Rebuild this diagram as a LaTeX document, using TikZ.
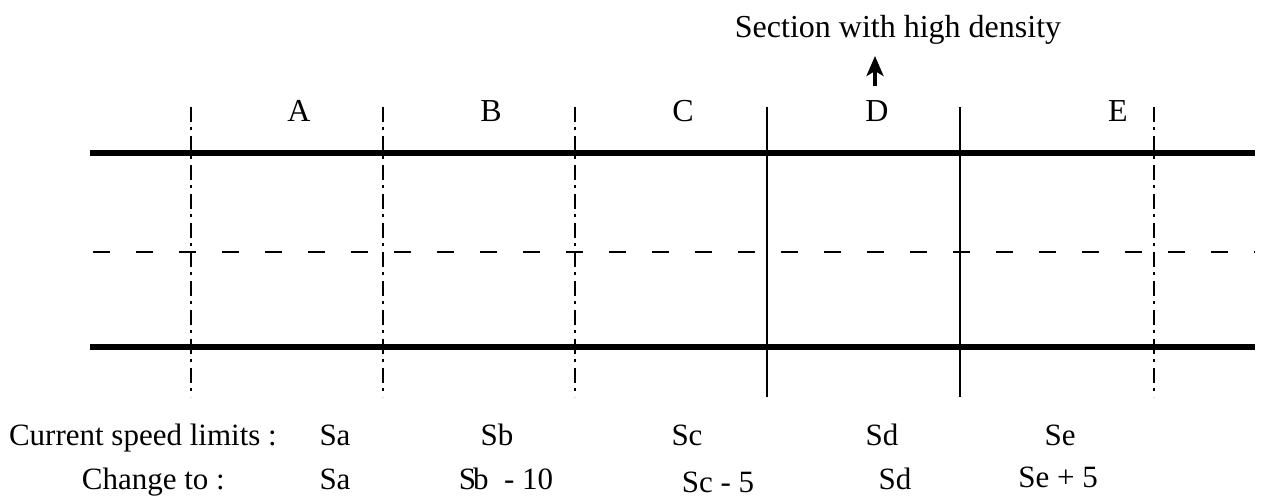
\documentclass[tikz,border=0pt]{standalone}
\usepackage{fontspec}
\setmainfont{Liberation Serif}
\usetikzlibrary{arrows.meta}
\tikzset{
  road/.style={line width=6pt},
  lane/.style={line width=2.4pt,dash pattern=on 17pt off 26pt},
  cut/.style={line width=2.2pt,dash pattern=on 15pt off 5pt on 2.5pt off 6.5pt},
  wall/.style={line width=2.2pt},
  biglabel/.style={font=\fontsize{32}{38}\selectfont,inner sep=0pt,anchor=base},
  speedlabel/.style={font=\fontsize{31}{36}\selectfont,inner sep=0pt,anchor=base}
}

\begin{document}
\begin{tikzpicture}[x=1pt,y=-1pt]
            \useasboundingbox (0,0) rectangle (1263,499);

            \coordinate (rl) at (90,153);
            \coordinate (rr) at (1255,153);
            \coordinate (ql) at (90,347);
            \coordinate (qr) at (1255,347);
            \coordinate (ml) at (93,252);
            \coordinate (mr) at (1255,252);
            \draw[road] (rl)--(rr);
            \draw[road] (ql)--(qr);
            \draw[lane] (ml)--(mr);

            \coordinate (t1) at (191,107);
            \coordinate (b1) at (191,397);
            \coordinate (t2) at (383,107);
            \coordinate (b2) at (383,397);
            \coordinate (t3) at (575,107);
            \coordinate (b3) at (575,397);
            \coordinate (t4) at (767,107);
            \coordinate (b4) at (767,397);
            \coordinate (t5) at (960,107);
            \coordinate (b5) at (960,397);
            \coordinate (t6) at (1154,107);
            \coordinate (b6) at (1154,397);
            \draw[cut] (t1)--(b1);
            \draw[cut] (t2)--(b2);
            \draw[cut] (t3)--(b3);
            \draw[wall] (t4)--(b4);
            \draw[wall] (t5)--(b5);
            \draw[cut] (t6)--(b6);

            \node[biglabel] (secA) at (299,121) {A};
            \node[biglabel] (secB) at (491,121) {B};
            \node[biglabel] (secC) at (683,121) {C};
            \node[biglabel] (secD) at (877,121) {D};
            \node[biglabel] (secE) at (1118,121) {E};

            \node[biglabel] (dense) at (898,37) {Section with high density};
            \coordinate (tail) at (875,86);
            \coordinate (tip) at (875,56);
            \draw[line width=3.5pt,-{Stealth[length=20pt,width=17pt,inset=5pt]}] (tail)--(tip);

            \node[speedlabel,anchor=base east] (cur) at (277,445) {Current speed limits :};
            \node[speedlabel] (curA) at (335,445) {Sa};
            \node[speedlabel] (curB) at (497,445) {Sb};
            \node[speedlabel] (curC) at (687,445) {Sc};
            \node[speedlabel] (curD) at (882,445) {Sd};
            \node[speedlabel] (curE) at (1060,445) {Se};

            \node[speedlabel,anchor=base east] (chg) at (225,489) {Change to :};
            \node[speedlabel] (chgA) at (335,489) {Sa};
            \node[speedlabel] (chgB) at (506,489) {S\kern-3pt b\ \ - 10};
            \node[speedlabel] (chgC) at (718,492) {Sc - 5};
            \node[speedlabel] (chgD) at (895,489) {Sd};
            \node[speedlabel] (chgE) at (1058,487) {Se + 5};
        \end{tikzpicture}
\end{document}
